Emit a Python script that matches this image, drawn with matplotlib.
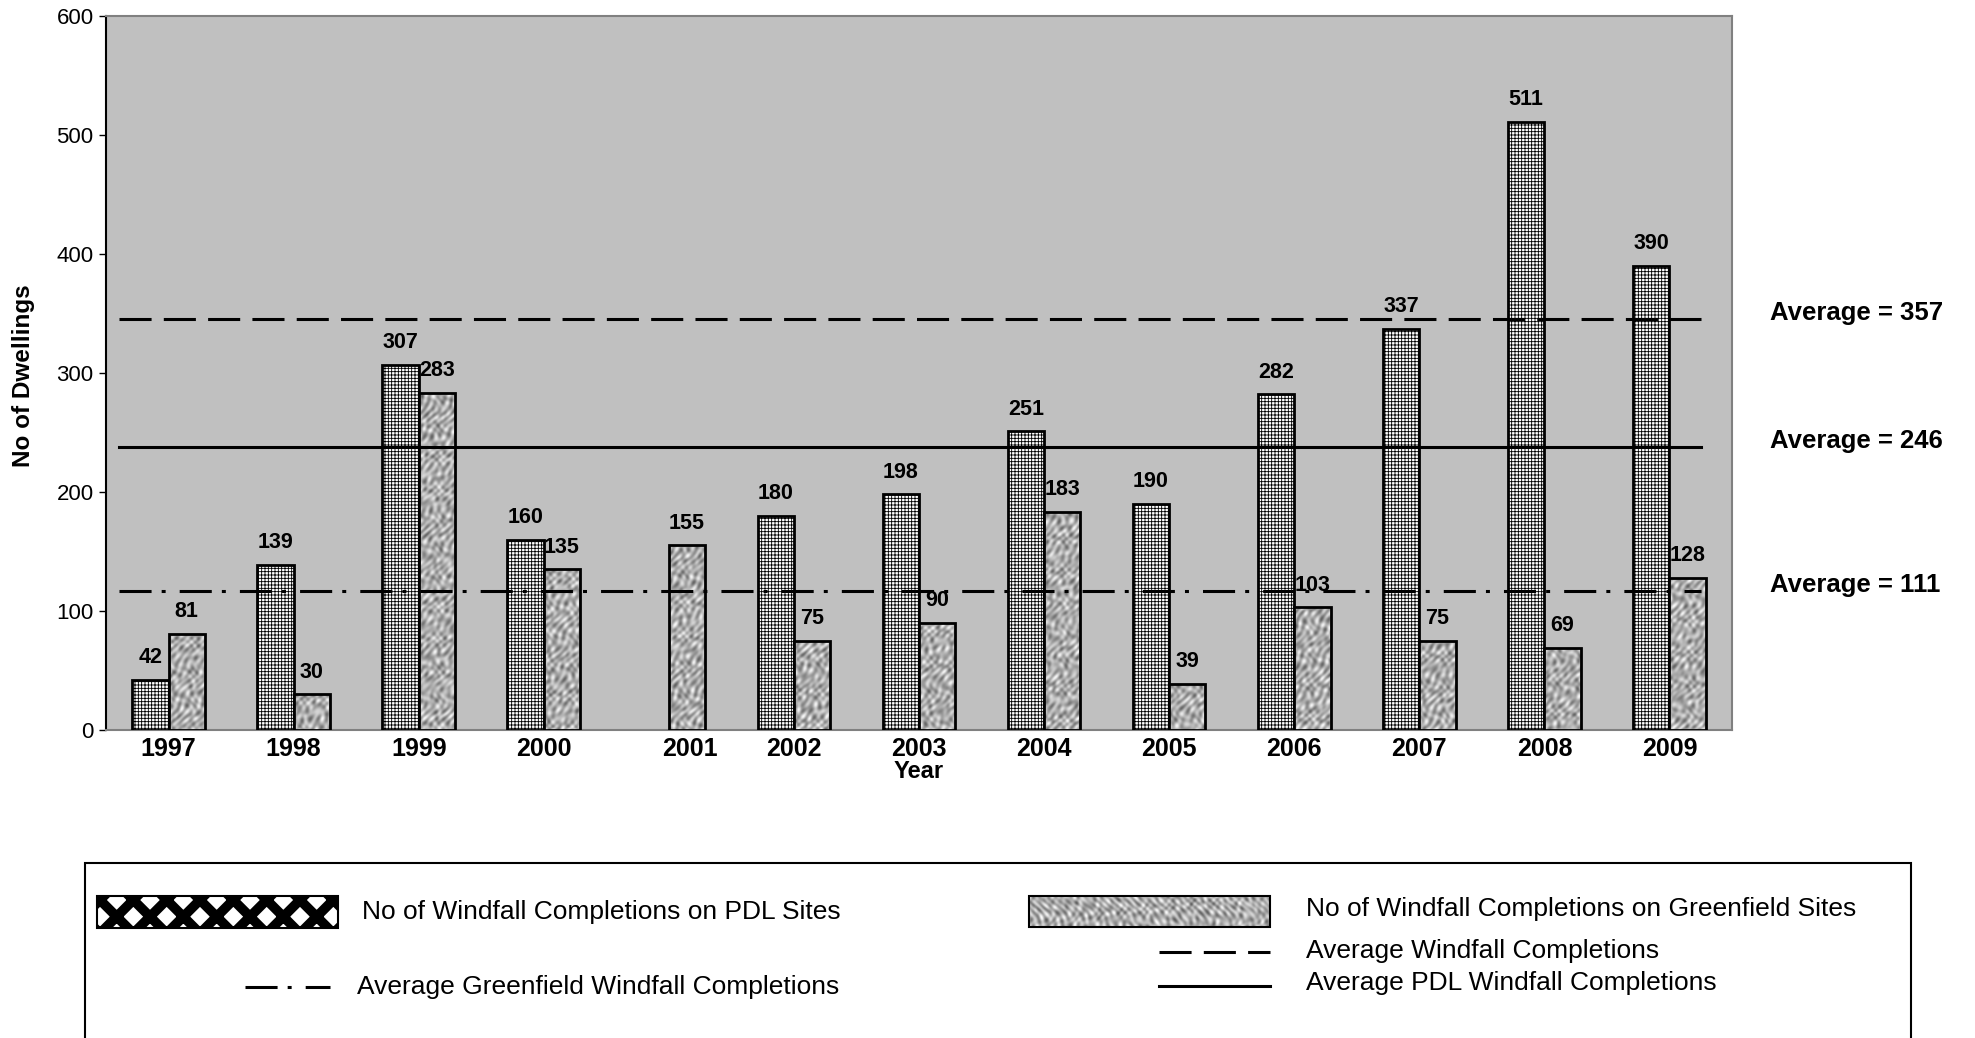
import numpy as np
import matplotlib
matplotlib.use("Agg")
import matplotlib.pyplot as plt
import matplotlib.transforms as mtransforms
from matplotlib.patches import Rectangle
from matplotlib import font_manager

# Datos
years = ['1997', '1998', '1999', '2000', '2001', '2002', '2003',
         '2004', '2005', '2006', '2007', '2008', '2009']
pdl_sites = [42, 139, 307, 160, None, 180, 198, 251, 190, 282, 337, 511, 390]
greenfield_sites = [81, 30, 283, 135, 155, 75, 90, 183, 39, 103, 75, 69, 128]

# lineas de promedio (posicion) y su texto
avg_values = [345, 238, 117]
avg_texts = ['Average = 357', 'Average = 246', 'Average = 111']
avg_styles = [(0, (10.5, 4)), '-', (0, (10.5, 3.3, 1.3, 4.6))]

legend_pdl = 'No of Windfall Completions on PDL Sites'
legend_gf = 'No of Windfall Completions on Greenfield Sites'
legend_avg = 'Average Windfall Completions'
legend_avg_pdl = 'Average PDL Windfall Completions'
legend_avg_gf = 'Average Greenfield Windfall Completions'

plt.rcParams['font.family'] = ['Liberation Sans', 'DejaVu Sans']
plt.rcParams['hatch.linewidth'] = 0.6

names = {f.name for f in font_manager.fontManager.ttflist}
narrow = 'Liberation Sans Narrow' if 'Liberation Sans Narrow' in names else 'Liberation Sans'


def granite(nx, ny, ox, oy):
    # textura gris "granito" para las barras greenfield
    x = np.arange(nx)[None, :] + ox
    y = np.arange(ny)[:, None] + oy
    t = (np.sin(0.55 * x + 1.9 * np.sin(0.21 * y + 0.03 * x)) * np.cos(0.47 * y + 1.6 * np.sin(0.27 * x))
         + 0.7 * np.sin(0.83 * x - 0.61 * y + 2.1 * np.cos(0.17 * y))
         + 0.6 * np.cos(0.31 * x + 0.37 * y + 1.5 * np.sin(0.4 * x - 0.2 * y)))
    return np.clip(0.68 + 0.13 * t, 0, 1)


W, H = 1975, 1038
fig = plt.figure(figsize=(W / 100, H / 100), dpi=100)
ax = fig.add_axes([106 / W, 1 - 730 / H, 1626 / W, 714.3 / H])
ax.set_facecolor('#c0c0c0')

x = np.arange(len(years))
ancho = 0.29
px_per_unit = 714.3 / 600

for i, (p, g) in enumerate(zip(pdl_sites, greenfield_sites)):
    if p is not None:
        ax.bar(x[i] - ancho / 2, p, ancho, facecolor='white', edgecolor='black',
               hatch='+++++', linewidth=2, zorder=3)
        ax.annotate(str(p), (x[i] - ancho / 2, p), xytext=(0, 12), textcoords='offset points',
                    ha='center', va='baseline', fontsize=15.5, fontweight='bold', zorder=6)
    bar = ax.bar(x[i] + ancho / 2, g, ancho, facecolor='none', edgecolor='black',
                 linewidth=2, zorder=3.5)[0]
    tex = granite(36, max(int(g * px_per_unit), 2), i * 37, i * 53)
    im = ax.imshow(tex, extent=(x[i], x[i] + ancho, 0, g), origin='lower', aspect='auto',
                   cmap='gray', vmin=0, vmax=1, interpolation='bilinear', zorder=3)
    im.set_clip_path(bar)
    ax.annotate(str(g), (x[i] + ancho / 2, g), xytext=(0, 12), textcoords='offset points',
                ha='center', va='baseline', fontsize=15.5, fontweight='bold', zorder=6)

# lineas de promedio
blend = mtransforms.blended_transform_factory(ax.transAxes, ax.transData)
up = mtransforms.ScaledTranslation(0, 6 / 100, fig.dpi_scale_trans)
for val, txt, ls in zip(avg_values, avg_texts, avg_styles):
    ax.plot([-0.40, 12.25], [val, val], color='black', linewidth=2.2, linestyle=ls, zorder=5)
    ax.text(1.0234, val, txt, transform=blend + up, va='center', ha='left',
            fontsize=18.5, fontweight='bold', clip_on=False)

ax.set_xlim(-0.5, 12.5)
ax.set_ylim(0, 600)
ax.set_yticks(range(0, 700, 100))
ax.tick_params(axis='y', labelsize=16, length=5, width=1, direction='out', pad=4)
ax.set_xticks(x)
ax.set_xticklabels(years, fontsize=18, fontweight='bold')
ax.tick_params(axis='x', length=0, pad=5)
# la etiqueta 2001 aparece algo desplazada en el original
lab = ax.get_xticklabels()[4]
lab.set_transform(lab.get_transform() + mtransforms.ScaledTranslation(21 / 100, 0, fig.dpi_scale_trans))

for lado in ['top', 'right', 'bottom']:
    ax.spines[lado].set_color('#808080')
    ax.spines[lado].set_linewidth(1.5)
ax.spines['left'].set_color('black')
ax.spines['left'].set_linewidth(1.5)

fig.text(24 / W, 1 - 376 / H, 'No of Dwellings', rotation=90, ha='center', va='center',
         fontsize=17.5, fontweight='bold')
fig.text(919 / W, 1 - 778 / H, 'Year', ha='center', va='baseline', fontsize=17, fontweight='bold')

# leyenda dibujada a mano en coordenadas de pixel
lg = fig.add_axes([0, 0, 1, 1], zorder=10)
lg.set_xlim(0, W)
lg.set_ylim(H, 0)
lg.axis('off')
lg.add_patch(Rectangle((85, 863), 1911 - 85, 200, facecolor='white', edgecolor='black',
                       linewidth=1.5, clip_on=False, zorder=1))
plt.rcParams['hatch.linewidth'] = 7
p_pdl = Rectangle((97, 896), 241, 32, facecolor='white', edgecolor='black', hatch='x',
                  linewidth=1.5, zorder=2)
lg.add_patch(p_pdl)
plt.rcParams['hatch.linewidth'] = 0.6
g_rect = Rectangle((1029, 896), 241, 31, facecolor='none', edgecolor='black', linewidth=1.5, zorder=4)
lg.add_patch(g_rect)
im = lg.imshow(granite(241, 31, 0, 0), extent=(1029, 1270, 927, 896), aspect='auto',
               cmap='gray', vmin=0, vmax=1, interpolation='bilinear', zorder=3)
im.set_clip_path(g_rect)
lg.set_xlim(0, W)
lg.set_ylim(H, 0)

lg.plot([245, 330], [987, 987], color='black', linewidth=2.2, linestyle=avg_styles[2], zorder=3)
lg.plot([1159, 1270], [952, 952], color='black', linewidth=2.2, linestyle=avg_styles[0], zorder=3)
lg.plot([1159, 1270], [986, 986], color='black', linewidth=2.2, linestyle=avg_styles[1], zorder=3)

fs_leg = 19
lg.text(362, 912, legend_pdl, va='center', ha='left', fontsize=fs_leg, family=narrow, zorder=3)
lg.text(357, 987, legend_avg_gf, va='center', ha='left', fontsize=fs_leg, family=narrow, zorder=3)
lg.text(1306, 909, legend_gf, va='center', ha='left', fontsize=fs_leg, family=narrow, zorder=3)
lg.text(1306, 951, legend_avg, va='center', ha='left', fontsize=fs_leg, family=narrow, zorder=3)
lg.text(1306, 983, legend_avg_pdl, va='center', ha='left', fontsize=fs_leg, family=narrow, zorder=3)

fig.savefig('out.png', dpi=100)
